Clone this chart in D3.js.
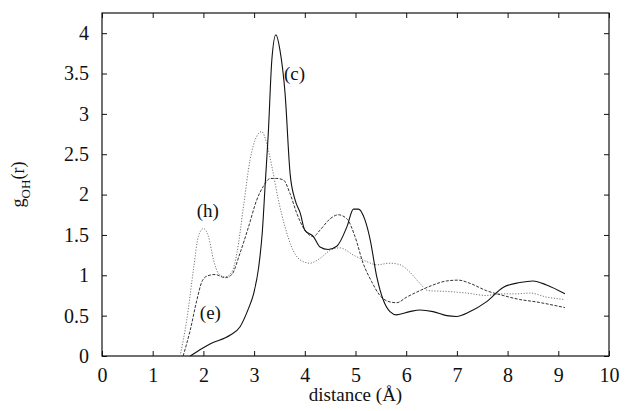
<!DOCTYPE html>
<html>
<head>
<meta charset="utf-8">
<script src="https://cdn.jsdelivr.net/npm/d3@7"></script>
</head>
<body style="margin:0;background:#fff">
<div id="chart"></div>
<script>
// curve (c): solid
var xC = [1.74, 1.94, 2.13, 2.53, 2.72, 2.89, 2.99, 3.09, 3.16, 3.22, 3.28, 3.35, 3.43, 3.51, 3.61, 3.71, 3.81, 3.91, 4.0, 4.17, 4.30, 4.46, 4.63, 4.83, 4.96, 5.06, 5.19, 5.29, 5.42, 5.55, 5.68, 5.81, 6.07, 6.27, 6.53, 6.8, 6.99, 7.26, 7.58, 7.91, 8.24, 8.5, 8.77, 9.13];
var yC = [0, 0.08, 0.15, 0.26, 0.36, 0.59, 0.77, 1.1, 1.52, 2.14, 2.76, 3.67, 3.98, 3.79, 3.26, 2.26, 1.93, 1.77, 1.56, 1.48, 1.35, 1.32, 1.36, 1.6, 1.82, 1.82, 1.68, 1.44, 0.98, 0.69, 0.55, 0.51, 0.55, 0.57, 0.55, 0.50, 0.49, 0.55, 0.67, 0.85, 0.91, 0.93, 0.88, 0.77];

// curve (e): dashed
var xE = [1.6, 1.74, 1.87, 1.97, 2.07, 2.23, 2.43, 2.56, 2.72, 2.89, 3.05, 3.18, 3.32, 3.45, 3.58, 3.71, 3.84, 4.0, 4.17, 4.3, 4.5, 4.66, 4.83, 4.99, 5.15, 5.32, 5.48, 5.68, 5.81, 6.01, 6.27, 6.53, 6.8, 7.03, 7.26, 7.58, 7.91, 8.24, 8.57, 8.9, 9.13];
var yE = [0, 0.32, 0.69, 0.92, 0.99, 1.01, 0.97, 1.01, 1.27, 1.6, 1.93, 2.1, 2.2, 2.2, 2.18, 2.01, 1.77, 1.56, 1.48, 1.56, 1.70, 1.75, 1.70, 1.48, 1.15, 0.92, 0.75, 0.67, 0.66, 0.73, 0.81, 0.88, 0.93, 0.94, 0.9, 0.81, 0.75, 0.70, 0.67, 0.63, 0.6];

// curve (h): dotted
var xH = [1.54, 1.67, 1.81, 1.9, 2.0, 2.1, 2.2, 2.3, 2.43, 2.56, 2.66, 2.79, 2.92, 3.05, 3.15, 3.25, 3.35, 3.48, 3.61, 3.74, 3.91, 4.1, 4.3, 4.5, 4.69, 4.96, 5.22, 5.42, 5.68, 5.88, 6.07, 6.27, 6.43, 6.8, 7.19, 7.58, 7.85, 8.17, 8.44, 8.77, 9.13];
var yH = [0, 0.44, 1.1, 1.48, 1.58, 1.48, 1.19, 1.02, 0.98, 1.04, 1.27, 1.85, 2.43, 2.72, 2.78, 2.63, 2.35, 1.93, 1.6, 1.35, 1.19, 1.15, 1.21, 1.31, 1.34, 1.25, 1.17, 1.13, 1.15, 1.13, 1.04, 0.9, 0.81, 0.8, 0.78, 0.75, 0.77, 0.77, 0.78, 0.73, 0.70];

var xTicks = [0, 1, 2, 3, 4, 5, 6, 7, 8, 9, 10];
var yTicks = [0, 0.5, 1, 1.5, 2, 2.5, 3, 3.5, 4];

var serif = "'Liberation Serif', 'DejaVu Serif', 'Times New Roman', serif";

var margin = {top: 13, right: 27, bottom: 55, left: 102},
    width = 636 - margin.left - margin.right,
    height = 411 - margin.top - margin.bottom;

var x = d3.scaleLinear().domain([0, 10]).range([0, width]);
var y = d3.scaleLinear().domain([0, 4.25]).range([height, 0]);

var svg = d3.select("#chart").append("svg")
    .attr("width", 636)
    .attr("height", 411)
    .append("g")
    .attr("transform", "translate(" + margin.left + "," + margin.top + ")");

function styleAxis(g) {
    g.select(".domain").remove();
    g.attr("font-family", serif).attr("font-size", 20);
    g.selectAll(".tick line").attr("stroke", "#111").attr("stroke-width", 1);
    g.selectAll(".tick text").attr("fill", "#111");
}

// inward ticks on all four sides
svg.append("g")
    .attr("transform", "translate(0," + height + ")")
    .call(d3.axisBottom(x).tickValues(xTicks).tickSize(-5).tickPadding(12).tickFormat(d3.format("d")))
    .call(styleAxis);

svg.append("g")
    .call(d3.axisTop(x).tickValues(xTicks).tickSize(-5).tickFormat(""))
    .call(styleAxis);

svg.append("g")
    .call(d3.axisLeft(y).tickValues(yTicks).tickSize(-5).tickPadding(13).tickFormat(d3.format("")))
    .call(styleAxis);

svg.append("g")
    .attr("transform", "translate(" + width + ",0)")
    .call(d3.axisRight(y).tickValues(yTicks).tickSize(-5).tickFormat(""))
    .call(styleAxis);

svg.append("rect")
    .attr("width", width)
    .attr("height", height)
    .attr("fill", "none")
    .attr("stroke", "#111")
    .attr("stroke-width", 1.2);

var line = d3.line()
    .x(function(d) { return x(d[0]); })
    .y(function(d) { return y(d[1]); })
    .curve(d3.curveMonotoneX);

function pairs(xs, ys) { return xs.map(function(v, i) { return [v, ys[i]]; }); }

svg.append("path")
    .datum(pairs(xH, yH))
    .attr("fill", "none")
    .attr("stroke", "#777")
    .attr("stroke-width", 1)
    .attr("stroke-dasharray", "1.2,1.6")
    .attr("d", line);

svg.append("path")
    .datum(pairs(xE, yE))
    .attr("fill", "none")
    .attr("stroke", "#333")
    .attr("stroke-width", 1)
    .attr("stroke-dasharray", "3,1.5")
    .attr("d", line);

svg.append("path")
    .datum(pairs(xC, yC))
    .attr("fill", "none")
    .attr("stroke", "#111")
    .attr("stroke-width", 1.1)
    .attr("d", line);

function label(t, xv, yv) {
    svg.append("text")
        .attr("x", x(xv)).attr("y", y(yv))
        .attr("font-family", serif).attr("font-size", 19).attr("fill", "#111")
        .text(t);
}
label("(c)", 3.59, 3.42);
label("(h)", 1.87, 1.72);
label("(e)", 1.93, 0.46);

// axis titles
svg.append("text")
    .attr("x", width / 2)
    .attr("y", height + 45)
    .attr("text-anchor", "middle")
    .attr("font-family", serif).attr("font-size", 19).attr("fill", "#111")
    .text("distance (Å)");

var yt = svg.append("text")
    .attr("transform", "translate(-78," + (height / 2) + ") rotate(-90)")
    .attr("text-anchor", "middle")
    .attr("font-family", serif).attr("font-size", 18).attr("fill", "#111");
yt.append("tspan").text("g");
yt.append("tspan").attr("font-size", 13).attr("dy", 6).text("OH");
yt.append("tspan").attr("dy", -6).text("(r)");
</script>
</body>
</html>
